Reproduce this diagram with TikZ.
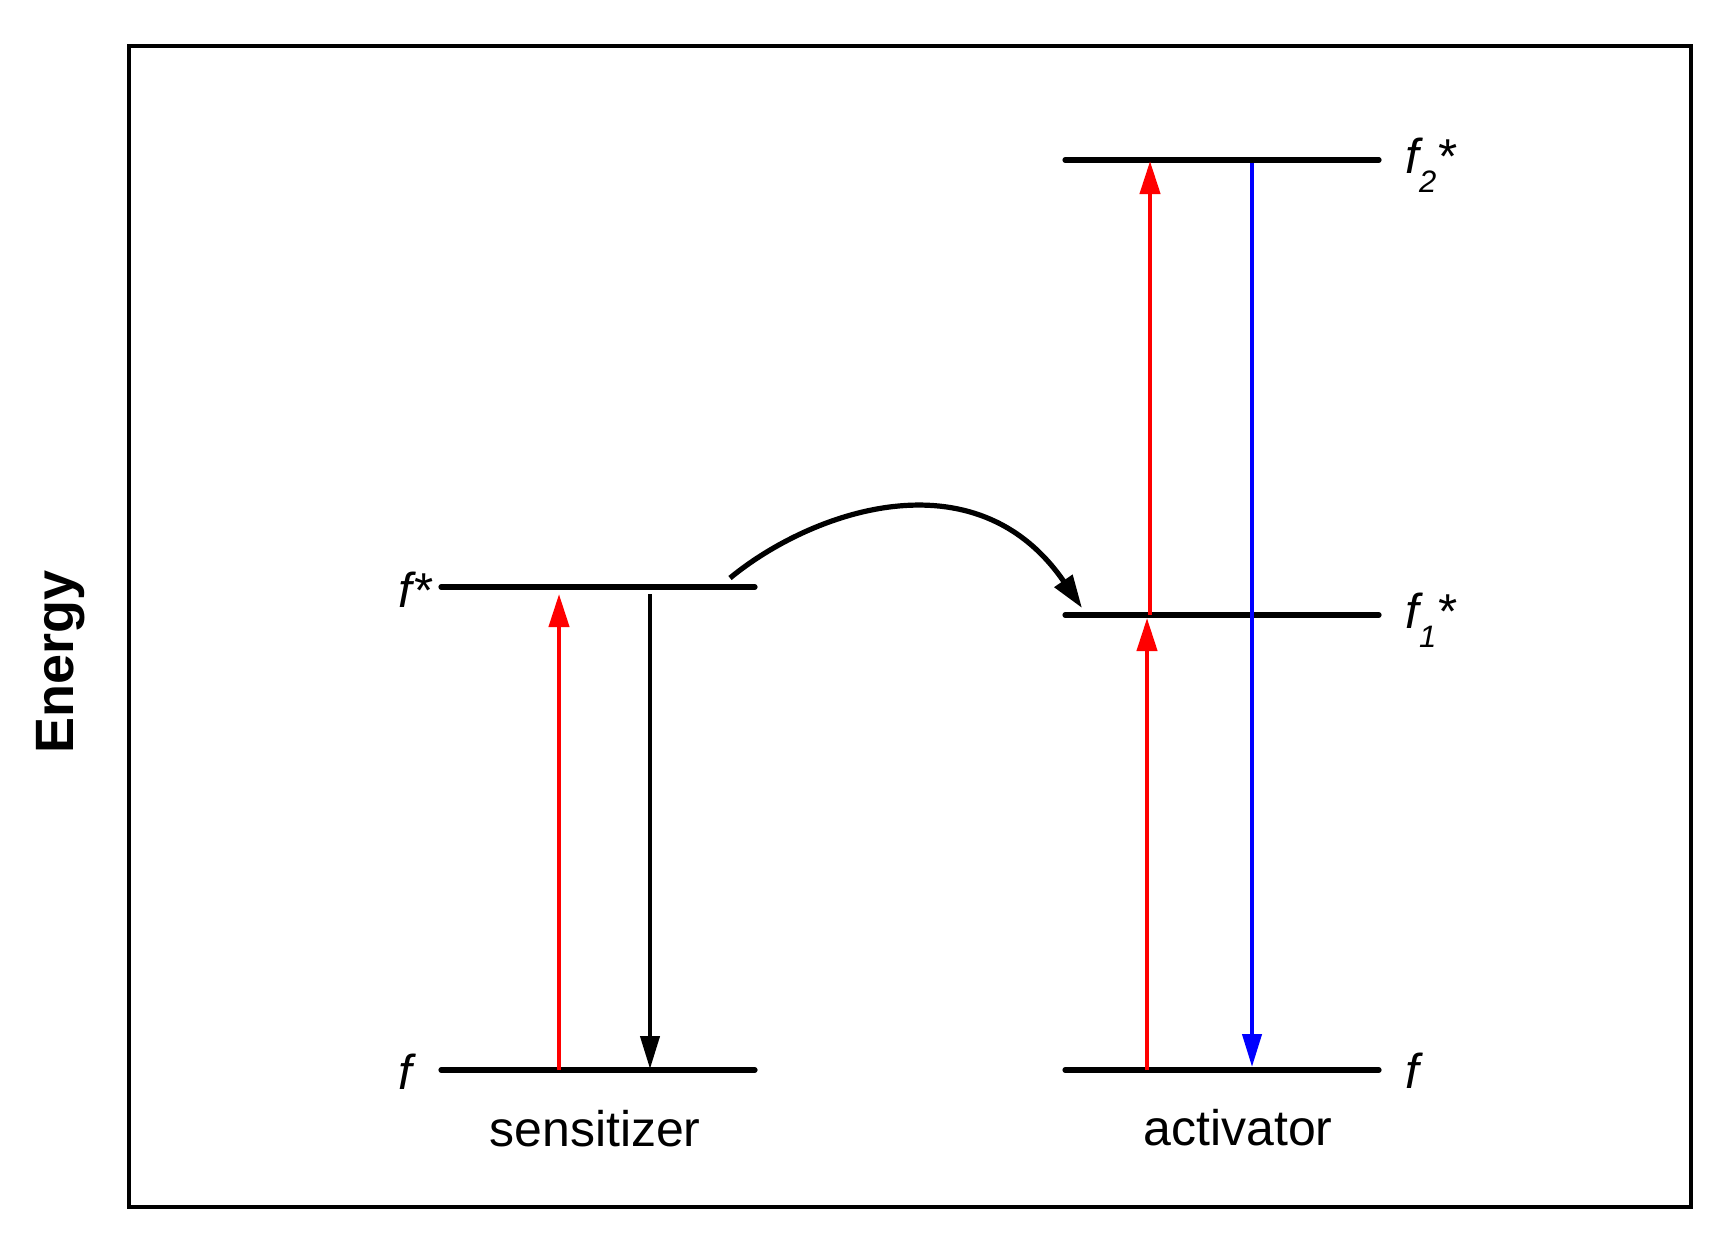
\documentclass[tikz,border=0pt]{standalone}
\usepackage{fontspec}
\setmainfont{Liberation Sans}
\usetikzlibrary{arrows.meta}
\newcommand{\lblsize}{\fontsize{24.5}{28}\selectfont}
\newcommand{\namesize}{\fontsize{25}{29}\selectfont}
\newcommand{\subtwo}[1]{\raisebox{-9.5pt}{\fontsize{15.5}{16}\selectfont #1}}
\begin{document}
\begin{tikzpicture}[x=0.5pt,y=-0.5pt,
  level/.style={line width=2.6pt, line cap=round},
  uparrow/.style={line width=2.1pt, red, -{Triangle[width=10pt,length=16.5pt]}},
  downarrow/.style={line width=2.1pt, -{Triangle[width=9.5pt,length=16.5pt]}},
  transfer/.style={line width=2.6pt, -{Triangle[width=10.5pt,length=16.5pt]}},
  lbl/.style={font=\lblsize\itshape, inner sep=0pt},
  systext/.style={font=\namesize, inner sep=0pt}]
\useasboundingbox (0,0) rectangle (1727,1255);
\fill[white] (0,0) rectangle (1727,1255);
\draw[line width=2.1pt] (129,46) rectangle (1691,1207);

% level endpoints
\coordinate (sExL) at (441,587);  \coordinate (sExR) at (755,587);
\coordinate (sGrL) at (441,1070); \coordinate (sGrR) at (755,1070);
\coordinate (aE2L) at (1065,160); \coordinate (aE2R) at (1379,160);
\coordinate (aE1L) at (1065,615); \coordinate (aE1R) at (1379,615);
\coordinate (aGrL) at (1065,1070);\coordinate (aGrR) at (1379,1070);

\draw[level] (sExL) -- (sExR);
\draw[level] (sGrL) -- (sGrR);
\draw[level] (aE2L) -- (aE2R);
\draw[level] (aE1L) -- (aE1R);
\draw[level] (aGrL) -- (aGrR);

% arrow endpoints
\coordinate (r1s) at (559,1070); \coordinate (r1e) at (559,594);
\coordinate (k1s) at (650,594);  \coordinate (k1e) at (650,1069);
\coordinate (r2s) at (1147,1070);\coordinate (r2e) at (1147,618);
\coordinate (r3s) at (1150,615); \coordinate (r3e) at (1150,161);
\coordinate (b1s) at (1252,163); \coordinate (b1e) at (1252,1067);
\coordinate (cs) at (730,578);   \coordinate (ce) at (1082,608);

\draw[uparrow] (r1s) -- (r1e);
\draw[downarrow] (k1s) -- (k1e);
\draw[uparrow] (r2s) -- (r2e);
\draw[uparrow] (r3s) -- (r3e);
\draw[downarrow, blue] (b1s) -- (b1e);
\draw[transfer] (cs) .. controls (810,512) and (975,452) .. (ce);

% labels
\node[lbl, anchor=base west] (lsEx) at (398,607) {f*};
\node[lbl, anchor=base west] (lsGr) at (398,1089) {f};
\node[lbl, anchor=base west] (laE2) at (1405,173) {f\subtwo{2}*};
\node[lbl, anchor=base west] (laE1) at (1405,628) {f\subtwo{1}*};
\node[lbl, anchor=base west] (laGr) at (1405,1088) {f};
\node[systext, anchor=base] (sens) at (595,1146) {sensitizer};
\node[systext, anchor=base] (act) at (1238,1145) {activator};
\node[font=\fontsize{27}{31}\selectfont\bfseries, inner sep=0pt, rotate=90, anchor=base] (energy) at (73,662) {Energy};
\end{tikzpicture}
\end{document}
